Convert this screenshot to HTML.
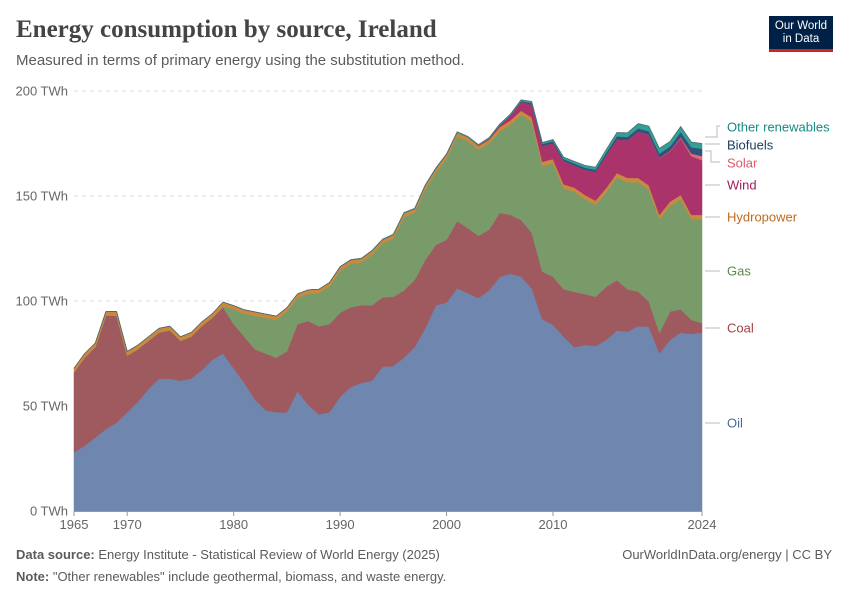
<!DOCTYPE html>
<html><head><meta charset="utf-8">
<style>
body{margin:0;background:#fff;font-family:"Liberation Sans",sans-serif;}
#wrap{position:relative;width:850px;height:600px;overflow:hidden;}
.t{position:absolute;white-space:nowrap;}
</style></head>
<body>
<div id="wrap">
<div class="t" style="left:16px;top:16px;font-family:'Liberation Serif',serif;font-weight:bold;font-size:25px;color:#444;">Energy consumption by source, Ireland</div>
<div class="t" style="left:16px;top:52px;font-size:15px;color:#5b5b5b;">Measured in terms of primary energy using the substitution method.</div>
<div style="position:absolute;left:769px;top:16px;width:64px;height:36px;background:#002147;border-bottom:3px solid #ce261e;color:#fff;font-size:11.5px;line-height:13px;text-align:center;padding-top:4px;box-sizing:border-box;">Our World<br>in Data</div>
<svg id="chart" width="850" height="600" style="position:absolute;left:0;top:0;"></svg>
<div class="t" style="left:16px;top:547px;font-size:13px;color:#5b5b5b;"><b>Data source:</b> Energy Institute - Statistical Review of World Energy (2025)</div>
<div class="t" style="right:18px;top:547px;font-size:13px;color:#5b5b5b;">OurWorldInData.org/energy | CC BY</div>
<div class="t" style="left:16px;top:569px;font-size:13px;color:#5b5b5b;"><b>Note:</b> "Other renewables" include geothermal, biomass, and waste energy.</div>
</div>
<script>
const years=[];for(let y=1965;y<=2024;y++)years.push(y);
const oil=[28,31,35,39,42,47,52,58,63,63,62,63,67,72,75,68,61,53,48,47,47,57,50.5,46,47,54.4,59,61,62,68.7,69,73,78,87,98,99.2,106,103.7,101.4,105,111.4,113,111.6,106,91.3,88.6,83,78,79,78.6,81.4,85.9,85.4,88,87.8,75,81.4,85,84.3,85];
const coal=[38,42,43,54,51,27,25,23,22,23,19,20,21,20,22,21,22,24,27,26,29,32,40,42,42,40,38,37,36,33,33,32,32,32.5,28.7,30,32,31,29.6,29,30.6,28,27,26.5,22.7,23,22.6,26.4,24.3,23.4,25.4,24,20.2,16.4,12,9.8,13.6,11,6.7,4.5];
const gas=[0,0,0,0,0,0,0,0,0,0,0,0,0,0,0.5,7,11,16,17,18,19,12.6,13,15.8,18,20,20.7,20.4,24,25.7,27.7,35,32,33.7,34.5,38.7,40.4,41.5,41,41,38.8,43,50,53,50.3,54,48,47.6,45.2,43.8,45,49,51,52.2,53.3,54.2,50.3,52.5,48,49.5];
const hydro=[2,2,2,2,2,2,2,2,2,2,2,2,2,2,2,1.8,1.8,1.8,1.8,1.8,1.8,1.8,1.8,1.8,1.8,1.8,1.8,1.8,1.8,1.8,1.8,1.8,1.8,1.8,1.8,1.8,1.8,1.8,1.8,1.8,2,2,2,2,2,2,2,2,2,2,2,2,2,2,2,2,2,2,2,2];
const wind=[0,0,0,0,0,0,0,0,0,0,0,0,0,0,0,0,0,0,0,0,0,0,0,0,0,0,0,0,0,0,0,0,0,0,0,0,0,0,0.3,0.5,1,2.2,4.2,6,7.5,7.5,11,10.5,12,13.5,15.5,16,18,22,24,27,24,27,28,26];
const solar=[0,0,0,0,0,0,0,0,0,0,0,0,0,0,0,0,0,0,0,0,0,0,0,0,0,0,0,0,0,0,0,0,0,0,0,0,0,0,0,0,0,0,0,0,0,0,0,0,0,0,0,0,0,0,0.1,0.2,0.3,0.5,1.2,2];
const biofuels=[0,0,0,0,0,0,0,0,0,0,0,0,0,0,0,0,0,0,0,0,0,0,0,0,0,0,0,0,0,0,0,0,0,0,0,0,0,0,0,0,0,0.2,0.4,0.8,1,1,1,1,1,1.2,1.3,1.5,1.5,1.6,1.7,2,2,2.5,3,3.5];
const otherRen=[0,0,0,0,0,0,0,0,0,0,0,0,0,0,0,0,0,0,0,0,0,0,0,0,0,0.2,0.2,0.2,0.3,0.3,0.3,0.3,0.3,0.3,0.4,0.4,0.4,0.4,0.4,0.5,0.5,0.6,0.6,0.7,0.7,0.8,0.9,1,1.1,1.2,1.5,1.8,2,2.3,2.4,2.5,2.4,2.6,2.5,2.5];
const yTicks=[0,50,100,150,200];
const xTicks=[1965,1970,1980,1990,2000,2010,2024];
const seriesNames=["Oil","Coal","Gas","Hydropower","Wind","Solar","Biofuels","Other renewables"];
const seriesData=[oil,coal,gas,hydro,wind,solar,biofuels,otherRen];
const fills=["#6f86ae","#9f5a60","#799b6a","#c98a3e","#a9336a","#e06b77","#30527d","#33a096"];
const labelColors=["#4c6a9c","#a33e40","#5a8a48","#c06a1e","#a01c5c","#e0566b","#1d3d63","#178b84"];
const labelY=[423,328,271,217,185,163,145,127];
const X0=74,X1=702,Y0=511,Y1=91;
const xs=y=>X0+(y-1965)*(X1-X0)/(2024-1965);
const ys=v=>Y0-v*(Y0-Y1)/200;
const svg=document.getElementById('chart');
const NS="http://www.w3.org/2000/svg";
function mk(t,a){const e=document.createElementNS(NS,t);for(const k in a)e.setAttribute(k,a[k]);svg.appendChild(e);return e;}
yTicks.forEach(v=>{
  if(v>0){const g=mk('line',{x1:X0,x2:X1,y1:ys(v),y2:ys(v),stroke:'#ddd','stroke-dasharray':'4,4'});
  
  }
  const t=mk('text',{x:68,y:ys(v)+4.5,'text-anchor':'end','font-size':13,fill:'#666','font-family':'Liberation Sans, sans-serif'});
  t.textContent=v+' TWh';
  
  
});
let base=years.map(()=>0);
seriesData.forEach((s,i)=>{
  const top=base.map((b,j)=>b+s[j]);
  let d='M'+years.map((y,j)=>xs(y)+','+ys(top[j])).join('L');
  for(let j=years.length-1;j>=0;j--)d+='L'+xs(years[j])+','+ys(base[j]);
  d+='Z';
  const p=mk('path',{d:d,fill:fills[i],stroke:fills[i],'stroke-width':0.5});
  
  
  base=top;
});
const outline=mk('path',{d:'M'+years.map((y,j)=>xs(y)+','+ys(base[j])).join('L'),fill:'none',stroke:'#555','stroke-width':0.8,'stroke-opacity':0.7});


mk('line',{x1:X0,x2:X1,y1:Y0+0.5,y2:Y0+0.5,stroke:'#999'});
xTicks.forEach(y=>{
  mk('line',{x1:xs(y),x2:xs(y),y1:Y0,y2:Y0+5,stroke:'#999'});
  const t=mk('text',{x:xs(y),y:529,'text-anchor':'middle','font-size':13,fill:'#666','font-family':'Liberation Sans, sans-serif'});
  t.textContent=y;
  
  
});
const leaders=["M705,423H720","M705,328H720","M705,271H720","M705,217H720","M705,185H720","M705,151H711V162H720","M705,144H720","M705,137H717V126H720"];
seriesNames.forEach((n,i)=>{
  const l=mk('path',{d:leaders[i],fill:'none',stroke:'#bbb','stroke-width':1});
  
  
  const t=mk('text',{x:727,y:labelY[i]+4.5,'font-size':13,fill:labelColors[i],'font-family':'Liberation Sans, sans-serif'});
  t.textContent=n;
  
  
});
</script>
</body></html>
